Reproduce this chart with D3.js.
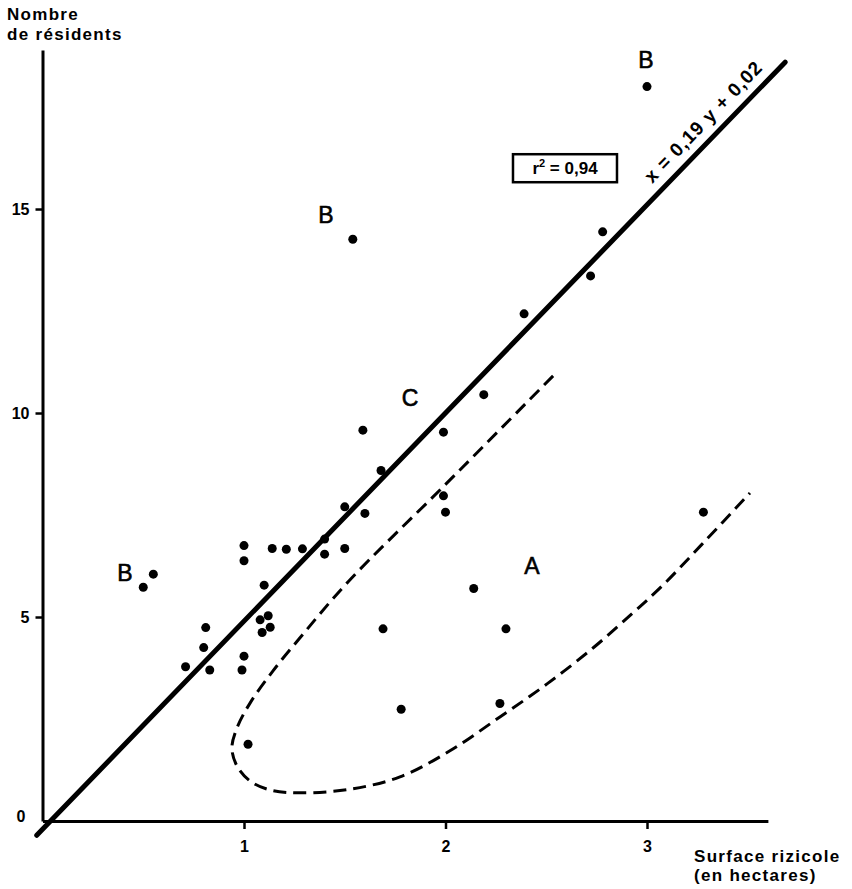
<!DOCTYPE html>
<html>
<head>
<meta charset="utf-8">
<script src="https://cdn.jsdelivr.net/npm/d3@7"></script>
<style>
  body { margin: 0; background: #fff; }
  svg { display: block; font-family: "Liberation Sans", Arial, sans-serif; }
</style>
</head>
<body>
<svg width="852" height="889"></svg>
<script>
// surface (ha) and residents
const surface = [3.0, 1.54, 2.78, 2.72, 2.39, 2.19, 1.59, 1.99, 1.68, 1.99, 2.0, 1.6, 1.5, 3.28,
  1.4, 1.4, 1.5, 1.29, 1.21, 1.14, 1.0, 1.0, 0.55, 0.5, 1.1, 2.14, 1.12, 1.08, 1.13, 1.09,
  1.69, 2.3, 0.81, 0.8, 0.71, 0.83, 1.0, 0.99, 1.02, 1.78, 2.27]
const residents = [18.0, 14.26, 14.44, 13.36, 12.43, 10.45, 9.58, 9.53, 8.59, 7.97, 7.57, 7.54, 7.7, 7.57,
  6.91, 6.54, 6.68, 6.67, 6.66, 6.68, 6.75, 6.38, 6.05, 5.73, 5.78, 5.7, 5.03, 4.93, 4.75, 4.62,
  4.71, 4.71, 4.74, 4.25, 3.78, 3.7, 4.04, 3.7, 1.88, 2.74, 2.88]

const xTicks = [1, 2, 3]
const yTicks = [0, 5, 10, 15]

// regression line as drawn: x = a*y + b
const fitA = 0.196, fitB = 0.04
const fitYRange = [-0.35, 18.6]

// dashed envelope around group A (surface, residents)
const envX = [2.534, 1.988, 1.516, 1.278, 1.144, 1.03, 0.965, 0.94, 0.965, 1.03, 1.129, 1.278,
  1.526, 1.774, 2.022, 2.27, 2.504, 2.732, 2.93, 3.079, 3.278, 3.511]
const envY = [10.91, 8.19, 5.86, 4.49, 3.68, 2.89, 2.28, 1.79, 1.35, 0.98, 0.76, 0.69,
  0.78, 1.08, 1.72, 2.55, 3.36, 4.24, 5.10, 5.78, 6.81, 8.04]

const groupLabels = ["B", "B", "B", "C", "A"]
const groupX = [2.995, 1.407, 0.409, 1.824, 2.429]
const groupY = [18.46, 14.66, 5.88, 10.17, 6.05]

const svg = d3.select("svg")

const x = d3.scaleLinear().domain([0, 3.6]).range([42.5, 767.9])
const y = d3.scaleLinear().domain([0, 18.9]).range([821, 49.9])

// axes
const xAxis = svg.append("g")
    .attr("transform", `translate(0,${y(0)})`)
    .call(d3.axisBottom(x).tickValues(xTicks).tickFormat(d3.format("d"))
        .tickSize(8).tickSizeOuter(0).tickPadding(12))
xAxis.select(".domain").attr("stroke-width", 3)
xAxis.selectAll(".tick line").attr("stroke-width", 2.5)
xAxis.selectAll(".tick text")
    .attr("font-size", 16).attr("font-weight", "bold")
    .attr("font-family", "Liberation Sans, Arial, sans-serif")

const yAxis = svg.append("g")
    .attr("transform", `translate(${x(0)},0)`)
    .call(d3.axisLeft(y).tickValues(yTicks).tickSize(7).tickSizeOuter(0).tickPadding(6))
yAxis.select(".domain").attr("stroke-width", 3)
yAxis.selectAll(".tick line").attr("stroke-width", 2.5)
yAxis.selectAll(".tick text")
    .attr("font-size", 16).attr("font-weight", "bold")
    .attr("font-family", "Liberation Sans, Arial, sans-serif")
yAxis.selectAll(".tick").filter(d => d === 0).select("line").remove()
yAxis.selectAll(".tick").filter(d => d === 0).select("text")
    .attr("x", -17).attr("dy", "0.05em")

// regression line
svg.append("line")
    .attr("x1", x(fitA * fitYRange[0] + fitB))
    .attr("y1", y(fitYRange[0]))
    .attr("x2", x(fitA * fitYRange[1] + fitB))
    .attr("y2", y(fitYRange[1]))
    .attr("stroke", "black")
    .attr("stroke-width", 5)
    .attr("stroke-linecap", "round")

// dashed envelope
svg.append("path")
    .datum(d3.range(envX.length))
    .attr("d", d3.line().x(i => x(envX[i])).y(i => y(envY[i])).curve(d3.curveCatmullRom))
    .attr("fill", "none")
    .attr("stroke", "black")
    .attr("stroke-width", 3)
    .attr("stroke-dasharray", "13,7")

// points
svg.selectAll(".pt")
    .data(d3.range(surface.length))
    .enter().append("circle")
    .attr("class", "pt")
    .attr("cx", i => x(surface[i]))
    .attr("cy", i => y(residents[i]))
    .attr("r", 4.5)
    .attr("fill", "black")

// group letters
svg.selectAll(".grp")
    .data(groupLabels)
    .enter().append("text")
    .attr("class", "grp")
    .attr("x", (d, i) => x(groupX[i]))
    .attr("y", (d, i) => y(groupY[i]))
    .attr("text-anchor", "middle")
    .attr("font-size", 23)
    .attr("stroke", "black").attr("stroke-width", 0.6)
    .text(d => d)

// r2 box
const bx = x(2.593), by = y(16.0)
svg.append("rect")
    .attr("x", bx - 52).attr("y", by - 14)
    .attr("width", 104).attr("height", 28)
    .attr("fill", "white").attr("stroke", "black").attr("stroke-width", 2.5)
const r2 = svg.append("text")
    .attr("x", bx).attr("y", by + 6)
    .attr("text-anchor", "middle")
    .attr("font-size", 17).attr("font-weight", "bold")
r2.append("tspan").text("r")
r2.append("tspan").attr("font-size", 11).attr("dy", -7).text("2")
r2.append("tspan").attr("dy", 7).text(" = 0,94")

// equation along the line
svg.append("text")
    .attr("transform", `translate(${x(3.303)},${y(17.03)}) rotate(-46)`)
    .attr("text-anchor", "middle")
    .attr("font-size", 19).attr("font-weight", "bold")
    .attr("letter-spacing", 1)
    .text("x = 0,19 y + 0,02")

// axis titles
const yTitle = svg.append("text").attr("font-size", 17).attr("font-weight", "bold")
    .attr("letter-spacing", 1.3)
yTitle.append("tspan").attr("x", 7).attr("y", 20).text("Nombre")
yTitle.append("tspan").attr("x", 7).attr("y", 40).text("de résidents")

const xTitle = svg.append("text").attr("font-size", 17).attr("font-weight", "bold")
    .attr("letter-spacing", 1.3)
xTitle.append("tspan").attr("x", 694).attr("y", 862).text("Surface rizicole")
xTitle.append("tspan").attr("x", 694).attr("y", 881).text("(en hectares)")
</script>
</body>
</html>
